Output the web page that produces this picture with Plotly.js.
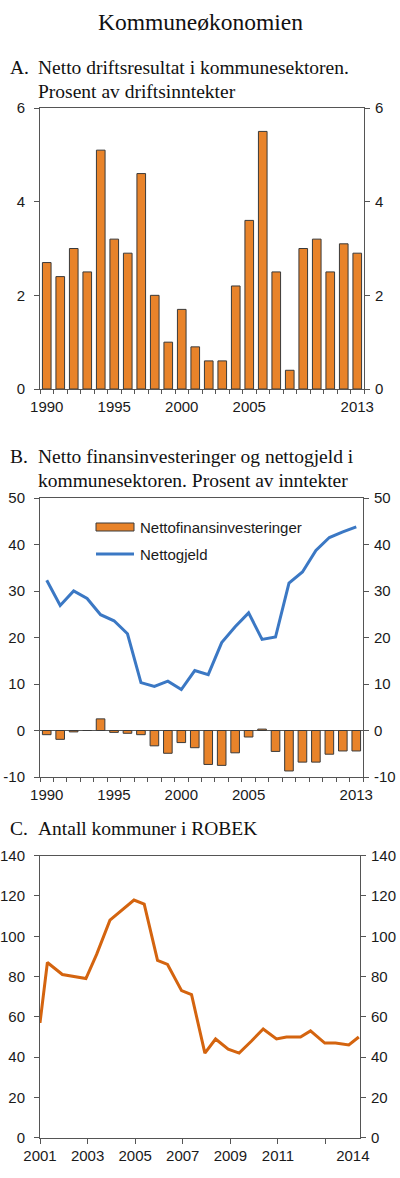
<!DOCTYPE html>
<html>
<head>
<meta charset="utf-8">
<script src="https://cdn.plot.ly/plotly-3.0.1.min.js"></script>
<style>html,body{margin:0;padding:0;background:#fff;}#chart{width:400px;height:1178px;}</style>
</head>
<body>
<div id="chart"></div>
<script>
// Panel A: Netto driftsresultat (prosent av driftsinntekter)
const yearsA = [1990,1991,1992,1993,1994,1995,1996,1997,1998,1999,2000,2001,2002,2003,2004,2005,2006,2007,2008,2009,2010,2011,2012,2013];
const driftsresultat = [2.7,2.4,3.0,2.5,5.1,3.2,2.9,4.6,2.0,1.0,1.7,0.9,0.6,0.6,2.2,3.6,5.5,2.5,0.4,3.0,3.2,2.5,3.1,2.9];

// Panel B
const yearsB = [1990,1991,1992,1993,1994,1995,1996,1997,1998,1999,2000,2001,2002,2003,2004,2005,2006,2007,2008,2009,2010,2011,2012,2013];
const nettofinans = [-0.9,-1.9,-0.3,0.0,2.5,-0.4,-0.6,-0.9,-3.3,-4.9,-2.6,-3.7,-7.3,-7.5,-4.8,-1.4,0.3,-4.5,-8.7,-6.8,-6.8,-5.1,-4.4,-4.4];
const nettogjeld = [32.3,26.9,30.0,28.4,24.9,23.6,20.8,10.3,9.5,10.6,8.8,12.9,12.0,18.9,22.3,25.3,19.6,20.1,31.7,34.1,38.7,41.5,42.7,43.8];

// Panel C: Antall kommuner i ROBEK
const robekX = [2001.0,2001.31,2001.94,2002.93,2003.38,2003.94,2004.95,2005.38,2005.94,2006.36,2006.95,2007.37,2007.93,2008.38,2008.91,2009.37,2009.89,2010.38,2010.94,2011.36,2011.95,2012.37,2012.97,2013.42,2013.98,2014.40];
const robekY = [57,87,81,79,91,108,118,116,88,86,73,71,42,49,44,42,48,54,49,50,50,53,47,47,46,50];

const tickValsAB = [1990,1995,2000,2005,2013];
const tickTextAB = ['1990','1995','2000','2005','2013'];
const tickValsC = [2001,2003,2005,2007,2009,2011,2014.15];
const tickTextC = ['2001','2003','2005','2007','2009','2011','2014'];
const yTicksB = [-10,0,10,20,30,40,50];
const yTextB = ['-10','0','10','20','30','40','50'];

const W = 400, H = 1178;
const px = v => v / W;
const py = v => 1 - v / H;

const BAR = '#E8832A', BAROUT = '#3a3a3a', BLUE = '#3B78C4', ORANGE = '#D4640F';
const AX = '#555555', TXT = '#1a1a1a';
const sans = 'Liberation Sans, Arial, sans-serif';
const serif = 'Liberation Serif, Times New Roman, serif';
const tf = {family: sans, size: 15, color: TXT};

function xAxis(domain, range, tv, tt, minor, anchor) {
  return {domain, range, anchor, type: 'linear', tickmode: 'array', tickvals: tv, ticktext: tt,
    ticks: '', showline: true, linecolor: AX, linewidth: 1, mirror: true,
    showgrid: false, zeroline: false, tickfont: tf, ticklabelstandoff: 4,
    minor: minor, fixedrange: true};
}
function yAxis(domain, range, dtick, anchor, extra) {
  return Object.assign({domain, range, dtick, tick0: 0, anchor, ticks: 'outside', ticklen: 5,
    tickcolor: AX, showline: true, linecolor: AX, linewidth: 1, showgrid: false,
    zeroline: false, tickfont: tf, fixedrange: true, ticklabelstandoff: 6}, extra || {});
}

const minorAB = {tickmode: 'linear', tick0: 1989.5, dtick: 1, ticks: 'outside', ticklen: 4, tickcolor: AX};
const minorC = {tickmode: 'linear', tick0: 2001, dtick: 2, ticks: 'outside', ticklen: 5, tickcolor: AX};

const data = [
  {type: 'bar', x: yearsA, y: driftsresultat, xaxis: 'x', yaxis: 'y', width: 0.64,
   marker: {color: BAR, line: {color: BAROUT, width: 1}}, showlegend: false, hoverinfo: 'skip'},
  {type: 'scatter', x: [], y: [], xaxis: 'x', yaxis: 'y2', showlegend: false},
  {type: 'bar', x: yearsB, y: nettofinans, xaxis: 'x2', yaxis: 'y3', width: 0.64,
   marker: {color: BAR, line: {color: BAROUT, width: 1}}, showlegend: false, hoverinfo: 'skip'},
  {type: 'scatter', mode: 'lines', x: yearsB, y: nettogjeld, xaxis: 'x2', yaxis: 'y3',
   line: {color: BLUE, width: 3}, showlegend: false, hoverinfo: 'skip'},
  {type: 'scatter', x: [], y: [], xaxis: 'x2', yaxis: 'y4', showlegend: false},
  {type: 'scatter', mode: 'lines', x: robekX, y: robekY, xaxis: 'x3', yaxis: 'y5',
   line: {color: ORANGE, width: 3}, showlegend: false, hoverinfo: 'skip'},
  {type: 'scatter', x: [], y: [], xaxis: 'x3', yaxis: 'y6', showlegend: false}
];

const domA = [py(389), py(108)], domB = [py(777), py(498)], domC = [py(1137.7), py(855.7)];
const yBextra = {tickmode: 'array', tickvals: yTicksB, ticktext: yTextB};
const right = {side: 'right', ticklabelstandoff: 2};

const layout = {
  width: W, height: H, margin: {l: 0, r: 0, t: 0, b: 0},
  paper_bgcolor: '#fff', plot_bgcolor: 'rgba(0,0,0,0)', showlegend: false,
  xaxis: xAxis([px(40), px(364)], [1989.5, 2013.5], tickValsAB, tickTextAB, minorAB, 'y'),
  yaxis: yAxis(domA, [0, 6], 2, 'x'),
  yaxis2: yAxis(domA, [0, 6], 2, 'x', Object.assign({overlaying: 'y'}, right)),
  xaxis2: xAxis([px(40), px(363)], [1989.5, 2013.5], tickValsAB, tickTextAB, minorAB, 'y3'),
  yaxis3: yAxis(domB, [-10, 50], 10, 'x2', Object.assign({zeroline: true, zerolinecolor: AX, zerolinewidth: 1}, yBextra)),
  yaxis4: yAxis(domB, [-10, 50], 10, 'x2', Object.assign({overlaying: 'y3'}, right, yBextra)),
  xaxis3: xAxis([px(40), px(360)], [2001, 2014.45], tickValsC, tickTextC, minorC, 'y5'),
  yaxis5: yAxis(domC, [0, 140], 20, 'x3'),
  yaxis6: yAxis(domC, [0, 140], 20, 'x3', Object.assign({overlaying: 'y5'}, right)),
  shapes: [
    {type: 'rect', xref: 'paper', yref: 'paper', x0: px(96), x1: px(134), y0: py(531), y1: py(523),
     fillcolor: BAR, line: {color: BAROUT, width: 1}},
    {type: 'line', xref: 'paper', yref: 'paper', x0: px(96), x1: px(134), y0: py(554), y1: py(554),
     line: {color: BLUE, width: 3}}
  ],
  annotations: [
    {text: 'Kommuneøkonomien', x: px(200), y: py(22), xanchor: 'center', yanchor: 'middle'},
    {text: 'A.', x: px(8), y: py(68), xanchor: 'left', yanchor: 'middle'},
    {text: 'Netto driftsresultat i kommunesektoren.', x: px(36), y: py(68), xanchor: 'left', yanchor: 'middle'},
    {text: 'Prosent av driftsinntekter', x: px(36), y: py(91), xanchor: 'left', yanchor: 'middle'},
    {text: 'B.', x: px(8), y: py(456), xanchor: 'left', yanchor: 'middle'},
    {text: 'Netto finansinvesteringer og nettogjeld i', x: px(36), y: py(456), xanchor: 'left', yanchor: 'middle'},
    {text: 'kommunesektoren. Prosent av inntekter', x: px(36), y: py(480), xanchor: 'left', yanchor: 'middle'},
    {text: 'C.', x: px(8), y: py(828), xanchor: 'left', yanchor: 'middle'},
    {text: 'Antall kommuner i ROBEK', x: px(36), y: py(828), xanchor: 'left', yanchor: 'middle'},
    {text: 'Nettofinansinvesteringer', x: px(138), y: py(527), xanchor: 'left', yanchor: 'middle', font: {family: sans, size: 15, color: TXT}},
    {text: 'Nettogjeld', x: px(138), y: py(554), xanchor: 'left', yanchor: 'middle', font: {family: sans, size: 15, color: TXT}}
  ].map((a, i) => Object.assign({xref: 'paper', yref: 'paper', showarrow: false,
     font: {family: serif, size: i === 0 ? 23.5 : 19.5, color: '#111'}}, a))
};

Plotly.newPlot('chart', data, layout, {displayModeBar: false, staticPlot: true});
</script>
</body>
</html>
